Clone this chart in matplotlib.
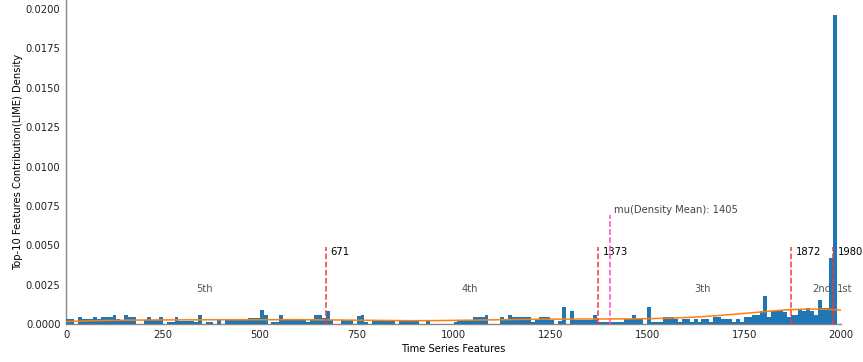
import matplotlib
matplotlib.use('Agg')

import matplotlib.pyplot as plt
import numpy as np

# histogram of top-10 LIME feature positions, bin width 10 over 0..2000
# heights in units of 1e-4 (density)
bin_edges = np.linspace(0, 2000, 201)
heights_e4 = [
    3, 3, 0, 4.6, 3, 3, 3, 4.6, 3, 4.6,            # 0-99
    4.6, 4.6, 6, 3, 2, 6, 4.6, 4.6, 0, 0,           # 100-199
    2.5, 4.6, 2.5, 2.5, 4.6, 0, 1.5, 1.5, 4.6, 2,   # 200-299
    2, 2, 2, 1.5, 6, 0, 1.5, 1.5, 0, 2.5,           # 300-399
    0, 2.5, 2.5, 2.5, 2.5, 2.5, 2.5, 4, 4, 4,       # 400-499
    9, 6, 0, 1, 1.5, 6, 2.5, 2.5, 2.5, 2.5,         # 500-599
    2.5, 2.5, 1.5, 2.5, 6, 6, 4, 8, 2.5, 0,         # 600-699
    0, 2.5, 2.5, 2.5, 0, 5, 6, 1, 0, 2,             # 700-799
    2, 2, 2, 2, 2, 0, 2, 2, 2, 2,                   # 800-899
    2, 0, 0, 2, 0, 0, 0, 0, 0, 0,                   # 900-999
    1.5, 2.5, 2.5, 2.5, 2.5, 4.6, 4.6, 4.6, 6, 0,   # 1000-1099
    0, 0, 4.6, 2.5, 6, 4.6, 4.6, 4.6, 4.6, 4.6,     # 1100-1199
    1.5, 2.5, 4.6, 4.6, 4.6, 2.5, 0, 2, 10.5, 0,    # 1200-1299
    8, 2.5, 2.5, 2.5, 2.5, 2.5, 6, 1.5, 1.5, 1.5,   # 1300-1399
    1.5, 1.5, 1.5, 1.5, 3, 3, 6, 3, 3, 0,           # 1400-1499
    10.5, 1.5, 1.5, 1.5, 4.6, 4.6, 4.6, 3, 1.5, 3,  # 1500-1599
    3, 1.5, 3, 1.5, 3, 3, 1.5, 4.6, 4.6, 3,         # 1600-1699
    3, 3, 1.5, 3, 1.5, 4.6, 4.6, 6, 6, 8,           # 1700-1799
    17.5, 4.6, 8, 8, 9, 7.4, 4.6, 6, 6, 9,          # 1800-1899
    8, 10, 8, 6, 15, 10, 10, 42, 196, 0,            # 1900-1999
]
heights = np.array(heights_e4) * 1e-4

# rank boundaries (top features) and density mean
rank_positions = [671, 1373, 1872, 1980]
rank_names = ['5th', '4th', '3th', '2nd', '1st']
density_mean = 1405

bin_centers = (bin_edges[:-1] + bin_edges[1:]) / 2
bin_width = bin_edges[1] - bin_edges[0]

# weighted gaussian kde (scott's rule), scaled to the histogram area
n_obs = heights.sum() / 1e-4
w = heights / heights.sum()
mean = np.sum(w * bin_centers)
std = np.sqrt(np.sum(w * (bin_centers - mean) ** 2))
bw = std * n_obs ** (-1 / 5)
x_kde = np.linspace(0, 2000, 400)
kde = np.sum(w[None, :] * np.exp(-0.5 * ((x_kde[:, None] - bin_centers[None, :]) / bw) ** 2), axis=1)
kde = kde / (bw * np.sqrt(2 * np.pi)) * heights.sum() * bin_width

fig = plt.figure(figsize=(8.63, 3.62), dpi=100)
ax = fig.add_axes([0.0765, 0.105, 0.898, 0.895])

ax.bar(bin_edges[:-1], heights, width=bin_width, align='edge',
       color='#1f77b4', linewidth=0, zorder=2)
ax.plot(x_kde, kde, color='#ff7f0e', linewidth=1.1, zorder=3)

line_top = 0.0049
for p in rank_positions:
    ax.vlines(p, 0, line_top, colors='#f03a3a', linestyles='--', linewidth=1.1, zorder=4)
    ax.text(p + 12, line_top, str(p), fontsize=7.2, color='black', va='top', ha='left')

ax.vlines(density_mean, 0, 0.0069, colors='#ff4fc0', linestyles='--', linewidth=1.1, zorder=4)
ax.text(density_mean + 10, 0.0069, f'mu(Density Mean): {density_mean}',
        fontsize=7.2, color='#444444', va='bottom', ha='left')

bounds = [0] + rank_positions + [2000]
for i, name in enumerate(rank_names):
    mid = (bounds[i] + bounds[i + 1]) / 2
    ax.text(mid, 0.0022, name, fontsize=7.2, color='#555555', va='center', ha='left')

ax.set_xlim(0, 2000)
ax.set_ylim(0, heights.max() * 1.05)
ax.set_xticks([0, 250, 500, 750, 1000, 1250, 1500, 1750, 2000])
ax.set_yticks(np.arange(0, 0.0201, 0.0025))
ax.yaxis.set_major_formatter(matplotlib.ticker.FormatStrFormatter('%.4f'))
ax.tick_params(length=0, labelsize=7.2, pad=4, colors='#222222')

for s in ['top', 'right']:
    ax.spines[s].set_visible(False)
for s in ['left', 'bottom']:
    ax.spines[s].set_color('#888888')
    ax.spines[s].set_linewidth(1.0)
    ax.spines[s].set_zorder(1)

ax.set_xlabel('Time Series Features', fontsize=7.2, labelpad=3)
ax.set_ylabel('Top-10 Features Contribution(LIME) Density', fontsize=7.2, labelpad=2)

plt.savefig('out.png', dpi=100)
plt.close()
